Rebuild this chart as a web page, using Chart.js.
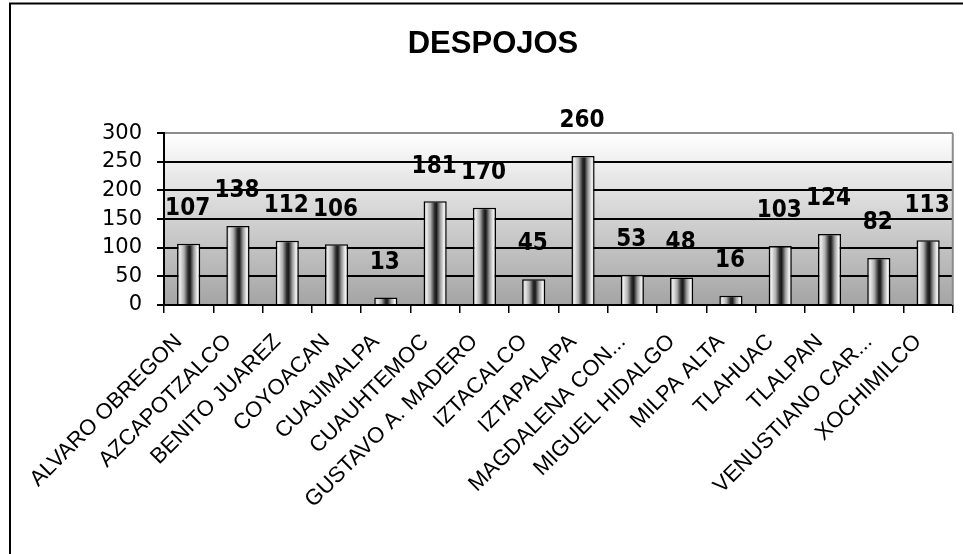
<!DOCTYPE html>
<html>
<head>
<meta charset="utf-8">
<title>DESPOJOS</title>
<script src="https://cdn.jsdelivr.net/npm/chart.js@4.4.1/dist/chart.umd.min.js"></script>
<style>
  html, body { margin: 0; padding: 0; background: #fff; }
  #wrap { width: 963px; height: 554px; position: relative; }
</style>
</head>
<body>
<div id="wrap"><canvas id="despojosChart"></canvas></div>
<script>
// Chart data
const delegaciones = [
  "ALVARO OBREGON", "AZCAPOTZALCO", "BENITO JUAREZ", "COYOACAN",
  "CUAJIMALPA", "CUAUHTEMOC", "GUSTAVO A. MADERO", "IZTACALCO",
  "IZTAPALAPA", "MAGDALENA CON...", "MIGUEL HIDALGO", "MILPA ALTA",
  "TLAHUAC", "TLALPAN", "VENUSTIANO CAR...", "XOCHIMILCO"
];
const despojos = [107, 138, 112, 106, 13, 181, 170, 45, 260, 53, 48, 16, 103, 124, 82, 113];
const yTicks = [0, 50, 100, 150, 200, 250, 300];

const BAR_PCT = 0.47;

// Horizontal "cylinder" shading for each bar
function barGradient(context) {
  const chart = context.chart;
  const xScale = chart.scales.x;
  if (!xScale || context.dataIndex === undefined) return "#999";
  const center = xScale.getPixelForValue(context.dataIndex);
  const step = xScale.width / delegaciones.length;
  if (!isFinite(center) || !isFinite(step) || step <= 0) return "#999";
  const w = step * BAR_PCT;
  const left = center - w / 2;
  const g = chart.ctx.createLinearGradient(left, 0, left + w, 0);
  g.addColorStop(0, "#9a9a9a");
  g.addColorStop(0.12, "#ececec");
  g.addColorStop(0.3, "#b0b0b0");
  g.addColorStop(0.48, "#2a2a2a");
  g.addColorStop(0.56, "#1a1a1a");
  g.addColorStop(0.72, "#9c9c9c");
  g.addColorStop(0.88, "#f2f2f2");
  g.addColorStop(1, "#c8c8c8");
  return g;
}

// Plot area gradient + outer frame
const plotBackground = {
  id: "plotBackground",
  beforeDraw(chart) {
    const { ctx, chartArea: a } = chart;
    ctx.save();
    const g = ctx.createLinearGradient(0, a.top, 0, a.bottom);
    g.addColorStop(0, "#ffffff");
    g.addColorStop(1, "#a4a4a4");
    ctx.fillStyle = g;
    ctx.fillRect(a.left, a.top, a.right - a.left, a.bottom - a.top);

    ctx.strokeStyle = "#000";
    ctx.lineWidth = 2;
    ctx.beginPath();
    ctx.moveTo(10, chart.height);
    ctx.lineTo(10, 3.5);
    ctx.lineTo(chart.width, 3.5);
    ctx.stroke();
    ctx.restore();
  },
  beforeDatasetsDraw(chart) {
    const { ctx, chartArea: a } = chart;
    ctx.save();
    ctx.strokeStyle = "#8c8c8c";
    ctx.lineWidth = 2;
    ctx.beginPath();
    ctx.moveTo(a.right, a.top);
    ctx.lineTo(a.right, a.bottom);
    ctx.stroke();
    ctx.restore();
  }
};

// Value labels above the bars
const valueLabels = {
  id: "valueLabels",
  afterDatasetsDraw(chart) {
    const ctx = chart.ctx;
    const meta = chart.getDatasetMeta(0);
    ctx.save();
    ctx.font = 'bold 24px "DejaVu Sans Condensed", "DejaVu Sans", sans-serif';
    ctx.fillStyle = "#000";
    ctx.textAlign = "center";
    ctx.textBaseline = "middle";
    meta.data.forEach((bar, i) => {
      ctx.fillText(String(despojos[i]), bar.x - 1, bar.y - 35);
    });
    ctx.restore();
  }
};

const ctx = document.getElementById("despojosChart").getContext("2d");
new Chart(ctx, {
  type: "bar",
  data: {
    labels: delegaciones,
    datasets: [{
      label: "DESPOJOS",
      data: despojos,
      backgroundColor: barGradient,
      borderColor: "#000",
      borderWidth: 1.5,
      categoryPercentage: 1,
      barPercentage: BAR_PCT
    }]
  },
  options: {
    responsive: true,
    maintainAspectRatio: false,
    animation: false,
    layout: { padding: { left: 30, right: 7, top: 0, bottom: 0 } },
    plugins: {
      legend: { display: false },
      tooltip: { enabled: false },
      title: {
        display: true,
        text: "DESPOJOS",
        color: "#000",
        font: { family: '"Liberation Sans", Arial, sans-serif', size: 31, weight: "bold" },
        padding: { top: 26, bottom: 70 }
      }
    },
    scales: {
      x: {
        offset: true,
        grid: {
          display: true,
          drawOnChartArea: false,
          drawTicks: true,
          tickLength: 8,
          color: "#000",
          lineWidth: 1.5,
          offset: true
        },
        border: { display: true, color: "#000", width: 2 },
        ticks: {
          autoSkip: false,
          minRotation: 45,
          maxRotation: 45,
          padding: 16,
          labelOffset: -10,
          color: "#000",
          font: { family: '"Liberation Sans", Arial, sans-serif', size: 22 }
        },
        afterFit(scale) { scale.height = 249; }
      },
      y: {
        min: 0,
        max: 300,
        grid: {
          color: (c) => (c.tick && c.tick.value === 300 ? "#8c8c8c" : "#000"),
          tickColor: "#000",
          lineWidth: 2,
          tickLength: 7
        },
        border: { display: true, color: "#000", width: 2 },
        ticks: {
          padding: 15,
          color: "#000",
          font: { family: '"DejaVu Sans", Verdana, sans-serif', size: 21 }
        },
        afterBuildTicks(scale) { scale.ticks = yTicks.map((v) => ({ value: v })); },
        afterFit(scale) { scale.width = 134; }
      }
    }
  },
  plugins: [plotBackground, valueLabels]
});
</script>
</body>
</html>
